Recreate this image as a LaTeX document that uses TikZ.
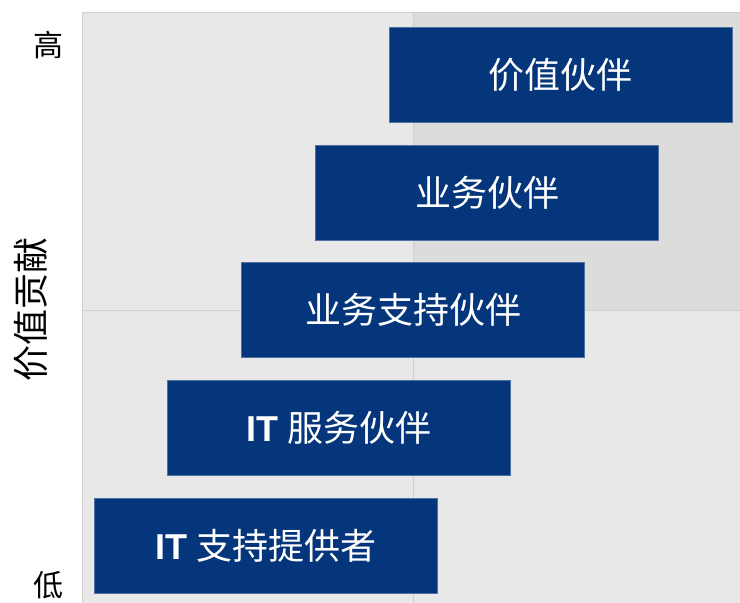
\documentclass[tikz,border=0pt]{standalone}
\usepackage{fontspec}
\setmainfont{Liberation Sans}
\newfontfamily\cjk{Noto Sans CJK SC}
\newcommand\itword{{\normalfont\fontsize{36}{42}\selectfont\bfseries IT}}
\definecolor{boxblue}{HTML}{05357A}
\definecolor{quadlight}{HTML}{E8E8E8}
\definecolor{quaddark}{HTML}{DCDCDC}
\definecolor{quadline}{HTML}{CFCFCF}

\begin{document}
\begin{tikzpicture}[%
    x=1pt, y=-1pt,              % pixel-like units, y going down
    ]
% -------------------------------------------------
% Styles for the role boxes and axis labels
\tikzset{
  role/.style={fill=boxblue, draw=boxblue!70!white, line width=0.6pt,
    text=white, minimum width=343pt, minimum height=95pt,
    inner sep=0pt, font={\fontsize{36}{42}\selectfont\cjk}},
  axis/.style={font={\fontsize{30}{34}\selectfont\cjk}, inner sep=0pt},
  grid/.style={draw=quadline, line width=1pt}
}
\useasboundingbox (0,0) rectangle (740,603);
% -------------------------------------------------
% Background quadrants
\fill[quadlight] (82,12) rectangle (740,603);
\fill[quaddark] (413,12) rectangle (740,310);
\draw[grid] (82,603) -- (82,12) -- (740,12);
\draw[grid] (413,12) -- (413,603);
\draw[grid] (82,310) -- (740,310);

% -------------------------------------------------
% Axis labels
\node[axis] (high) at (48,45) {高};
\node[axis] (low) at (48,585) {低};
\node[axis, font={\fontsize{36}{40}\selectfont\cjk}, rotate=90]
  (value) at (31,309) {价值贡献};

% -------------------------------------------------
% Role boxes, one step down-left each
\node[role] (r1) at (560.5,74.5) {价值伙伴};
\node[role] (r2) at (487,192.5) {业务伙伴};
\node[role] (r3) at (413,309.5) {业务支持伙伴};
\node[role] (r4) at (339,427.5) {\itword{} 服务伙伴};
\node[role] (r5) at (266,545.5) {\itword{} 支持提供者};

% -------------------------------------------------
\end{tikzpicture}
\end{document}
